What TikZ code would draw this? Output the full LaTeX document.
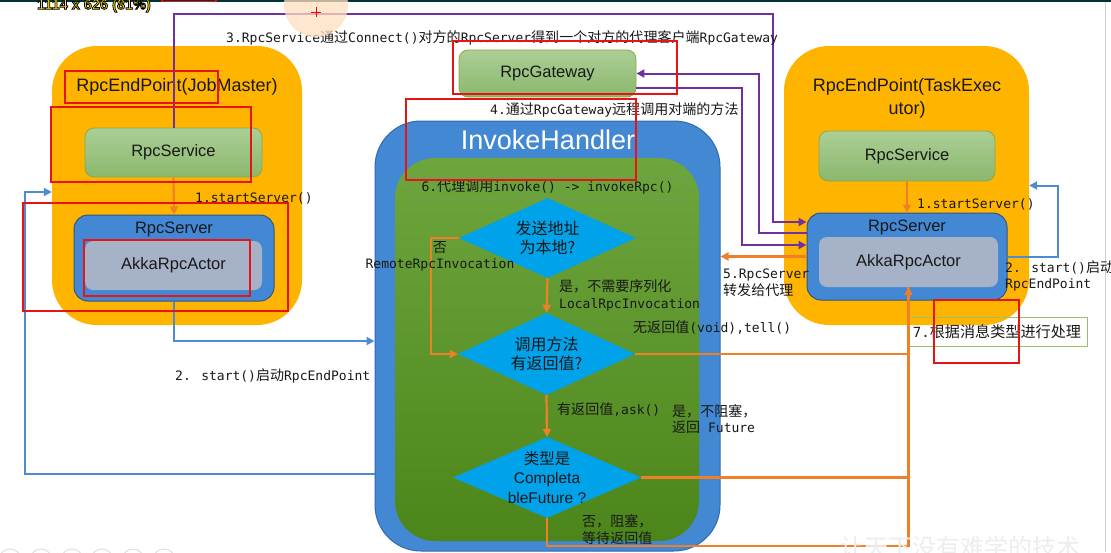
\documentclass[tikz,border=0pt]{standalone}
\usepackage{fontspec}
\setmainfont{Liberation Sans}
\newfontfamily\cjk{Noto Sans CJK SC}
\newfontfamily\cjkm[Scale=1.08]{Noto Sans CJK SC}
\newfontfamily\mono{DejaVu Sans Mono}
\newfontfamily\dimfont{Liberation Sans Bold}
\usetikzlibrary{shapes.geometric,arrows.meta,calc}
\newcommand\zh[1]{{\cjkm #1}}
\definecolor{epOrange}{RGB}{255,180,0}
\definecolor{svcTop}{RGB}{172,206,150}
\definecolor{svcBot}{RGB}{138,184,108}
\definecolor{svcBorder}{RGB}{140,170,70}
\definecolor{srvBlue}{RGB}{66,136,212}
\definecolor{srvBorder}{RGB}{50,85,130}
\definecolor{actGray}{RGB}{166,178,200}
\definecolor{ihBlue}{RGB}{66,136,210}
\definecolor{ihBorder}{RGB}{50,105,175}
\definecolor{grTop}{RGB}{110,166,62}
\definecolor{grBot}{RGB}{76,134,26}
\definecolor{diaBlue}{RGB}{0,162,234}
\definecolor{lineOrange}{RGB}{240,128,40}
\definecolor{lineBlue}{RGB}{78,140,210}
\definecolor{linePurple}{RGB}{112,48,160}
\definecolor{annRed}{RGB}{232,20,20}
\definecolor{labBorder}{RGB}{150,192,110}
\definecolor{txt}{RGB}{25,25,25}
\definecolor{dimYellow}{RGB}{255,230,0}
\tikzset{
  epbox/.style={rounded corners=45pt, fill=epOrange, inner sep=0pt},
  svcbox/.style={rounded corners=9pt, draw=svcBorder, line width=0.8pt, top color=svcTop, bottom color=svcBot, inner sep=0pt, font=\fontsize{16.5}{18}\selectfont, text=txt},
  srvbox/.style={rounded corners=14pt, draw=srvBorder, line width=1pt, fill=srvBlue, inner sep=0pt},
  actbox/.style={rounded corners=8pt, fill=actGray, inner sep=0pt, font=\fontsize{16.5}{18}\selectfont, text=txt},
  boxtext/.style={font=\fontsize{16.5}{18}\selectfont, text=txt, inner sep=0pt},
  ihbox/.style={rounded corners=46pt, fill=ihBlue, draw=ihBorder, line width=1pt, inner sep=0pt},
  ihinner/.style={rounded corners=40pt, top color=grTop, bottom color=grBot, inner sep=0pt},
  decision/.style={diamond, fill=diaBlue, inner sep=0pt},
  dtext/.style={align=center, font=\fontsize{15.5}{19.5}\selectfont, text=txt, inner sep=0pt},
  mlabel/.style={font=\mono\fontsize{13}{16.5}\selectfont, text=txt, inner sep=0pt},
  labbox/.style={draw=labBorder, line width=0.7pt},
  redbox/.style={draw=annRed, line width=1.3pt},
  oline/.style={draw=lineOrange, line width=2.2pt},
  oarrow/.style={oline, -{Triangle[length=8pt,width=8pt]}},
  barrow/.style={draw=lineBlue, line width=2pt, -{Triangle[length=8pt,width=8pt]}},
  parrow/.style={draw=linePurple, line width=2pt, -{Triangle[length=8pt,width=8pt]}},
}
\begin{document}
\begin{tikzpicture}[x=1pt,y=-1pt]
\useasboundingbox (0,0) rectangle (1111,552);
\fill[white] (0,0) rectangle (1111,552);
\fill[black!60!teal] (0,0) rectangle (1111,2);
\draw[gray!35, line width=1pt] (1105,2) -- (1105,552);

% endpoint boxes
\node[epbox, minimum width=250pt, minimum height=279pt] (jm) at (177,185.5) {};
\node[font=\fontsize{18}{22}\selectfont, text=txt, inner sep=0pt] (jmt) at (177,87) {RpcEndPoint(JobMaster)};
\node[epbox, minimum width=245pt, minimum height=279pt] (te) at (906.5,185.5) {};
\node[font=\fontsize{18}{23}\selectfont, text=txt, align=center, inner sep=0pt] (tet) at (907,98) {RpcEndPoint(TaskExec\\utor)};

\node[svcbox, minimum width=177pt, minimum height=49pt] (rsL) at (173.5,152.5) {RpcService};
\node[svcbox, minimum width=176pt, minimum height=50pt] (rsR) at (907,156) {RpcService};
\node[svcbox, minimum width=177pt, minimum height=47pt] (gw) at (547.5,73.5) {RpcGateway};

\node[srvbox, minimum width=200pt, minimum height=86pt] (srvL) at (174,258) {};
\node[boxtext] (srvLt) at (174,229) {RpcServer};
\node[actbox, minimum width=177pt, minimum height=49pt] (akL) at (173.5,265.5) {AkkaRpcActor};
\node[srvbox, minimum width=200pt, minimum height=87pt] (srvR) at (907,256.5) {};
\node[boxtext] (srvRt) at (907,227) {RpcServer};
\node[actbox, minimum width=179pt, minimum height=50pt] (akR) at (908.5,262) {AkkaRpcActor};

% invoke handler
\node[ihbox, minimum width=345pt, minimum height=430pt] (ih) at (547.5,336) {};
\node[ihinner, minimum width=304pt, minimum height=383pt] (ihg) at (547,349.5) {};
\node[font=\fontsize{27}{30}\selectfont, text=white, inner sep=0pt] (iht) at (548,140) {InvokeHandler};
\node[labbox, mlabel, draw=labBorder!80!black, minimum width=275pt, minimum height=23pt] (s6) at (547.5,187.5) {6.\zh{代理调用}invoke() -> invokeRpc()};

\node[decision, minimum width=177pt, minimum height=80pt] (d1) at (547.5,238) {};
\node[dtext, font=\cjk\fontsize{16}{19.5}\selectfont] (d1t) at (d1) {发送地址\\为本地?};
\node[decision, minimum width=177pt, minimum height=82pt] (d2) at (546.5,354) {};
\node[dtext, font=\cjk\fontsize{16}{18.5}\selectfont] (d2t) at (d2) {调用方法\\有返回值?};
\node[decision, minimum width=188pt, minimum height=81pt] (d3) at (547,477.5) {};
\node[dtext] (d3t) at (d3) {{\cjk 类型是}\\Completa\\bleFuture ?};

% label 7 box
\node[labbox, mlabel, minimum width=180pt, minimum height=29pt, font=\mono\fontsize{14}{16}\selectfont] (n7) at (997,331.5) {7.\zh{根据消息类型进行处理}};

% bend points
\coordinate (pA) at (773,14);
\coordinate (pB) at (759,73.5);
\coordinate (pC) at (742,245);
\coordinate (bL) at (25,192);
\coordinate (oL) at (431,238);

% connectors
\draw[oarrow] (rsL.south) -- (srvL.north);
\draw[oarrow] (rsR.south) -- (srvR.north);
\draw[barrow] (srvL.south) |- ([yshift=-5pt]ih.west);
\draw[barrow] ([yshift=-138pt]ih.west) -| (bL) -- ([yshift=-6.5pt]jm.west);
\draw[barrow] (srvR.east) -- ++(50,0) |- (te.east);
\draw[oarrow] (srvR.west) -- (srvR.west -| ih.east);
\draw[parrow] (rsL.north) |- (pA) |- ([yshift=34.5pt]srvR.west);
\draw[parrow] ([yshift=23.5pt]srvR.west) -| (pB) -- (gw.east);
\draw[parrow] ([yshift=-14.5pt]gw.east) -| (pC) -- ([yshift=11.5pt]srvR.west);
\draw[oarrow] (d1.south) -- (d2.north);
\draw[oarrow] (d2.south) -- (d3.north);
\draw[oarrow] (d1.west) -- (oL) |- (d2.west);
\draw[oline] (d3.east) -- (d3.east -| akR.south);
\draw[oline] (d3.south) -- ++(0,28) -| (akR.south);
\draw[oarrow] (d2.east) -| (akR.south);

% labels
\node[mlabel, anchor=west] (l3) at (226,38) {3.RpcService\zh{通过}Connect()\zh{对方的}RpcServer\zh{得到一个对方的代理客户端}RpcGateway};
\node[mlabel, anchor=west] (l4) at (490,110) {4.\zh{通过}RpcGateway\zh{远程调用对端的方法}};
\node[mlabel, anchor=west] (l1L) at (195,198) {1.startServer()};
\node[mlabel, anchor=west] (l1R) at (917,204) {1.startServer()};
\node[mlabel, anchor=west] (l2L) at (175,376) {2. start()\zh{启动}RpcEndPoint};
\node[mlabel, anchor=west, align=left] (l2R) at (1005,276) {2. start()\zh{启动}\\RpcEndPoint};
\node[mlabel, anchor=west, align=left] (l5) at (723,283) {5.RpcServer\\\zh{转发给代理}};
\node[mlabel, align=center] (lno1) at (440,256.5) {\zh{否}\\RemoteRpcInvocation};
\node[mlabel, anchor=west, align=left] (lyes1) at (559,295.5) {\zh{是，不需要序列化}\\LocalRpcInvocation};
\node[mlabel, anchor=west] (lvoid) at (633,328) {\zh{无返回值}(void),tell()};
\node[mlabel, anchor=west] (lask) at (557,410) {\zh{有返回值},ask()};
\node[mlabel, anchor=west, align=left] (lfut) at (672,419) {\zh{是，不阻塞，}\\\zh{返回} Future};
\node[mlabel, anchor=west, align=left] (lblk) at (582,529.5) {\zh{否，阻塞，}\\\zh{等待返回值}};

% annotation overlays
\draw[redbox] (65,71) rectangle (218,103);
\draw[redbox] (51,107) rectangle (251,182);
\draw[redbox] (23,203) rectangle (288,311);
\draw[redbox] (84,240) rectangle (250,296);
\draw[redbox] (406,99) rectangle (636,180);
\draw[redbox] (453,41) rectangle (677,94);
\draw[redbox] (934,300) rectangle (1019,363);
\draw[redbox] (162,-5) rectangle (216,1.5);
\fill[orange!25, opacity=0.75] (316,5) circle[radius=32pt];
\draw[red, line width=1pt] (311,12) -- (321,12) (316,7) -- (316,17);
\node[font=\dimfont\fontsize{14.5}{16}\selectfont, text=dimYellow, inner sep=0pt] (dim) at (94,5.5) {\special{pdf:literal 2 Tr 0.8 w 0 0 0 RG}1114 x 626 (81\%)\special{pdf:literal 0 Tr}};
\foreach \cx in {10,41,72,102,133,164}
  \draw[gray!30, line width=0.8pt] (\cx,560) circle[radius=11pt];
\node[text=gray!14, font=\cjk\fontsize{24}{26}\selectfont, inner sep=0pt] (wm) at (960,547) {让天下没有难学的技术};
\end{tikzpicture}
\end{document}
